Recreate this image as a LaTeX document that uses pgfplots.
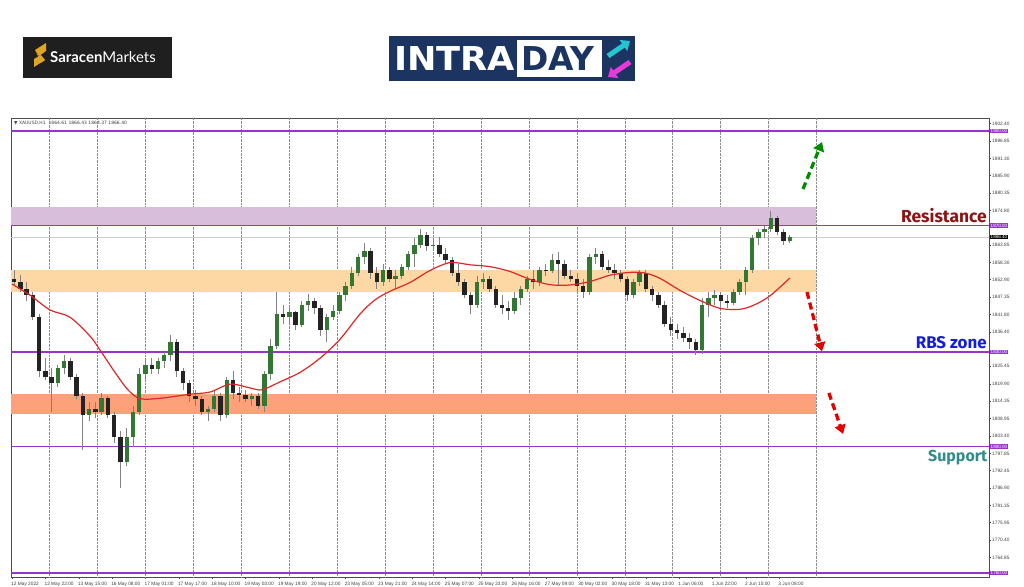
\documentclass[border=0pt]{standalone}
\usepackage{pgfplots}
\pgfplotsset{compat=1.18}
\usepackage{pgfplotstable}
\usepackage{fontspec}
\setmainfont{Liberation Sans}
\newfontfamily\dejavu{DejaVu Sans}
\newfontfamily\fira{Fira Sans}
\newfontfamily\lato{Lato}
\usetikzlibrary{arrows.meta}

\definecolor{levelpurple}{RGB}{153,51,204}
\definecolor{zonepurple}{RGB}{216,190,218}
\definecolor{zonepeach}{RGB}{253,216,164}
\definecolor{zonesalmon}{RGB}{252,161,122}
\definecolor{mared}{RGB}{220,40,40}
\definecolor{upgreen}{RGB}{50,120,50}
\definecolor{downdark}{RGB}{35,35,35}
\definecolor{wick}{RGB}{130,130,130}
\definecolor{resred}{RGB}{140,20,20}
\definecolor{rbsblue}{RGB}{20,30,215}
\definecolor{supteal}{RGB}{50,140,140}
\definecolor{navy}{RGB}{28,52,98}
\definecolor{logocyan}{RGB}{34,197,208}
\definecolor{logopink}{RGB}{232,58,216}
\definecolor{gold}{RGB}{222,166,38}

\tikzset{pricebox/.style={anchor=west, text=white, inner xsep=1bp, inner ysep=0.6bp,
  font=\fontsize{4.6}{5}\selectfont, xshift=0.5bp}}

% XAUUSD H1, three hourly bars per candle (i = bar index)
\pgfplotstableread{
i o h l c
1 1853 1856 1851 1852
4 1852 1854.5 1849 1850
7 1850 1852 1846 1848
10 1848 1849 1840 1841
13 1841 1842 1822 1824
16 1824 1828 1821 1822
19 1822 1825 1811 1820
22 1820 1826 1819 1825
25 1825 1829 1823 1827
28 1827 1828 1821 1822
31 1822 1823 1815 1816
34 1816 1817 1799 1810
37 1810 1814 1808 1812
40 1812 1814 1809 1811
43 1811 1817 1810 1815.5
46 1815.5 1816 1809 1810
49 1810 1811 1801 1803
52 1803 1805 1787 1795
55 1795 1806 1794 1803
58 1803 1813 1800 1811
61 1811 1825 1810 1823
64 1823 1828 1821 1826
67 1826 1828 1823 1824.5
70 1824.5 1828 1823 1827
73 1827 1830 1825 1829
76 1829 1835.5 1827 1833
79 1833 1834 1822 1824
82 1824 1825 1818 1820
85 1820 1821 1814 1816
88 1816 1818 1813 1815
91 1815 1816 1810 1811
94 1811 1813 1808 1812
97 1812 1818 1811 1816
100 1816 1817 1808 1810
103 1810 1822 1809 1821
106 1821 1824 1815 1817
109 1817 1819 1814 1816.5
112 1816.5 1818 1814 1815
115 1815 1817 1813 1816
118 1816 1817 1812 1813
121 1813 1824 1811 1823
124 1823 1834 1821 1832
127 1832 1849 1831 1842
130 1842 1845 1839 1841
133 1841 1844 1839 1842.5
136 1842.5 1843 1837 1838.5
139 1838.5 1846 1838 1845
142 1845 1848.5 1843 1846
145 1846 1847 1842 1844
148 1844 1845 1835 1837
151 1837 1842 1833 1841
154 1841 1845 1840 1843
157 1843 1849 1842 1848
160 1848 1852 1846 1851
163 1851 1857 1850 1855
166 1855 1861 1854 1860
169 1860 1864.5 1858 1862
172 1862 1863 1853 1855
175 1855 1857 1850 1852
178 1852 1858 1851 1856
181 1856 1857 1852 1853
184 1853 1856 1850 1854
187 1854 1858 1853 1857
190 1857 1862 1856 1861
193 1861 1866 1857 1864
196 1864 1868.8 1863 1867
199 1867 1868 1862 1863.5
202 1863.5 1866 1862 1864
205 1864 1866.5 1860 1861
208 1861 1863 1858 1859
211 1859 1860 1854 1855
214 1855 1858 1851 1852
217 1852 1853 1847 1848
220 1848 1849 1842 1845
223 1845 1854 1844 1852
226 1852 1855 1850 1853
229 1853 1854 1849 1850
232 1850 1851 1844 1845
235 1845 1848 1842 1844
238 1844 1846 1840 1843
241 1843 1849 1842 1847
244 1847 1851 1845 1850
247 1850 1854 1849 1853
250 1853 1856 1850 1852
253 1852 1857 1851 1856
256 1856 1858 1854 1855.5
259 1855.5 1861 1855 1859
262 1859 1861.5 1851 1858
265 1858 1859 1853 1854
268 1854 1856 1852 1853
271 1853 1855 1849 1851
274 1851 1853 1847 1849
277 1849 1861 1848 1860
280 1860 1863 1858 1861
283 1861 1862 1856 1857
286 1857 1859 1855 1856
289 1856 1858 1853 1855
292 1855 1856 1852 1853
295 1853 1854 1846 1848
298 1848 1853 1847 1852
301 1852 1856 1851 1855
304 1855 1856 1849 1850
307 1850 1851 1846 1848
310 1848 1849 1844 1845
313 1845 1846 1838 1839
316 1839 1841 1835 1837
319 1837 1839 1834 1836
322 1836 1838 1833 1834.5
325 1834.5 1836 1831 1833
328 1833 1834 1829 1830.5
331 1830.5 1847 1829.5 1845
334 1845 1849 1841 1847
337 1847 1849.5 1845 1848
340 1848 1849 1845 1846
343 1846 1848 1844 1845.5
346 1845.5 1850 1845 1849
349 1849 1853 1848 1852
352 1852 1857 1848 1856
355 1856 1867 1855 1866
358 1866 1869 1864 1868
361 1868 1870 1866 1869
364 1869 1874.5 1868 1872.5
367 1872.5 1873 1867 1868
370 1868 1869 1864 1865
373 1865 1867 1864.4 1866.4
}\candles

\begin{document}
\begin{tikzpicture}
\useasboundingbox (0,0) rectangle (1024bp,-587bp);
\fill[white] (0,0) rectangle (1024bp,-587bp);

% logos
\begin{scope}[x=1bp,y=-1bp]
  \fill[black!88] (23,37) rectangle (172,78);
  \fill[gold] (35,50) -- (46,43) -- (46,51) -- (39,56) -- cycle;
  \fill[gold!80!black] (35,50) -- (39,56) -- (45,60) -- (41,63) -- cycle;
  \fill[gold] (45,60) -- (34,67) -- (34,59) -- (41,55) -- cycle;
  \node[anchor=west, text=white, inner sep=0] at (50,57.5)
    {\lato\fontsize{15}{15}\selectfont\textbf{Saracen}Markets};
  \fill[navy] (389,36) rectangle (635,81);
  \fill[white] (517,40) rectangle (602,77);
  \node[anchor=base west, text=white, inner sep=0] at (394,70)
    {\scalebox{1.07}[1]{\dejavu\bfseries\fontsize{33}{33}\selectfont INTRA}};
  \node[anchor=base west, text=navy, inner sep=0] at (521,70)
    {\dejavu\bfseries\fontsize{33}{33}\selectfont DAY};
  \draw[logocyan, line width=5bp, -{Triangle[length=8bp,width=13bp]}] (608,56) -- (630,41);
  \draw[logopink, line width=5bp, -{Triangle[length=8bp,width=13bp]}] (630,62) -- (608,77);
  \node[anchor=west, inner sep=0, text=black!75] at (14,123)
    {\dejavu\fontsize{4.5}{5}\selectfont ▼ XAUUSD,H1\ \ 1864.61 1866.43 1864.37 1866.40};
\end{scope}

\begin{axis}[
    scale only axis,
    width=978bp, height=459bp,
    at={(11bp,-577bp)}, anchor=south west,
    xmin=-0.5, xmax=468.6,
    ymin=1758.7, ymax=1904.1,
    clip=false,
    axis line style={gray!60!black, line width=0.6bp},
    tick align=outside,
    major tick length=2bp,
    tick style={gray!60!black, line width=0.4bp},
    xtick pos=bottom, ytick pos=right,
    yticklabel pos=right,
    /pgf/number format/assume math mode=true,
    ticklabel style={font=\fontsize{4.8}{5}\selectfont, text=black!75},
    xtick={0,16,...,368},
    xticklabels={12 May 2022,12 May 22:00,13 May 15:00,16 May 08:00,17 May 01:00,17 May 17:00,18 May 10:00,19 May 03:00,19 May 19:00,20 May 12:00,23 May 05:00,23 May 21:00,24 May 14:00,25 May 07:00,25 May 23:00,26 May 16:00,27 May 09:00,30 May 02:00,30 May 18:00,31 May 13:00,1 Jun 06:00,1 Jun 22:00,2 Jun 15:00,3 Jun 08:00},
    xticklabel style={anchor=north west, xshift=-1bp, inner xsep=0},
    ytick={1764.85,1770.40,1775.95,1781.35,1786.90,1792.45,1797.85,1803.40,1808.95,1814.35,1819.90,1825.45,1836.40,1841.80,1847.35,1852.90,1858.30,1863.85,1874.80,1880.35,1885.90,1891.30,1896.85,1902.40},
    yticklabels={1764.85,1770.40,1775.95,1781.35,1786.90,1792.45,1797.85,1803.40,1808.95,1814.35,1819.90,1825.45,1836.40,1841.80,1847.35,1852.90,1858.30,1863.85,1874.80,1880.35,1885.90,1891.30,1896.85,1902.40},
    yticklabel style={inner xsep=1bp},
    extra x ticks={17.9,40.9,63.9,86.9,109.9,132.9,155.9,178.9,201.9,224.9,247.9,270.9,293.9,316.9,339.9,362.9,385.9},
    extra x tick labels={},
    extra x tick style={grid=major, major tick length=0pt,
      major grid style={densely dotted, gray!90, line width=0.5bp}},
  ]
  % zones
  \addplot[draw=none, fill=zonepurple] coordinates {(-0.5,1870) (385.6,1870) (385.6,1875.9) (-0.5,1875.9)} -- cycle;
  \addplot[draw=none, fill=zonepeach] coordinates {(-0.5,1849) (385.6,1849) (385.6,1856) (-0.5,1856)} -- cycle;
  \addplot[draw=none, fill=zonesalmon] coordinates {(-0.5,1810.4) (385.6,1810.4) (385.6,1816.7) (-0.5,1816.7)} -- cycle;
  % levels
  \addplot[gray!40, line width=0.5bp] coordinates {(-0.5,1866.4) (468.6,1866.4)};
  \addplot[levelpurple, line width=1.4bp] coordinates {(-0.5,1900) (468.6,1900)};
  \addplot[levelpurple, line width=1.4bp] coordinates {(-0.5,1870) (468.6,1870)};
  \addplot[levelpurple, line width=1.4bp] coordinates {(-0.5,1830) (468.6,1830)};
  \addplot[levelpurple, line width=1.4bp] coordinates {(-0.5,1800) (468.6,1800)};
  \addplot[levelpurple, line width=1.4bp] coordinates {(-0.5,1760) (468.6,1760)};
  % wicks
  \addplot[draw=none, mark=none, error bars/.cd, y dir=plus, y explicit,
    error mark=none, error bar style={draw=wick, line width=0.9bp}]
    table[x=i, y=l, y error plus expr={\thisrow{h}-\thisrow{l}}] {\candles};
  % bodies
  \addplot[draw=none, mark=none, unbounded coords=discard, error bars/.cd, y dir=plus, y explicit,
    error mark=none, error bar style={draw=upgreen, line width=4.4bp}]
    table[x=i, y expr={\thisrow{c}>=\thisrow{o} ? \thisrow{o} : nan},
      y error plus expr={\thisrow{c}-\thisrow{o}}] {\candles};
  \addplot[draw=none, mark=none, unbounded coords=discard, error bars/.cd, y dir=plus, y explicit,
    error mark=none, error bar style={draw=downdark, line width=4.4bp}]
    table[x=i, y expr={\thisrow{c}<\thisrow{o} ? \thisrow{c} : nan},
      y error plus expr={\thisrow{o}-\thisrow{c}}] {\candles};
  % moving average
  \addplot[mared, line width=1.2bp, smooth] coordinates {
    (0,1851.5) (8.6,1848) (18.2,1843.3) (27.8,1841) (37.4,1835) (42.2,1830.6)
    (49.4,1823.5) (55.6,1818) (61.4,1815.2) (71,1815.3) (85.4,1816.6) (95,1817.3)
    (104.6,1819.8) (114.1,1818.6) (119.9,1818) (128.5,1820.5) (138.1,1823.5)
    (147.7,1828) (157.3,1834) (166.9,1842) (174.1,1846.5) (181.3,1849.2)
    (190.9,1852) (200.5,1855.8) (210.1,1858.3) (219.7,1857.6) (229.3,1857)
    (238.8,1855.5) (248.4,1853) (258,1851.3) (267.6,1851.2) (277.2,1852.3)
    (286.8,1854.3) (296.4,1855.2) (303.6,1855) (310.8,1853.3) (320.4,1849.5)
    (330,1846.3) (339.6,1843.8) (349.2,1843.5) (356.4,1845) (363.6,1847.8) (373.1,1853.4)};
  % arrows
  \draw[green!55!black, line width=3.3bp, dash pattern=on 7bp off 4bp, -{Triangle[length=9bp,width=11bp]}]
    (axis cs:379.4,1881.6) -- (axis cs:388.5,1896.5);
  \draw[red!90!black, line width=3.3bp, dash pattern=on 7bp off 4bp, -{Triangle[length=9bp,width=11bp]}]
    (axis cs:381.3,1849.0) -- (axis cs:388.5,1830.2);
  \draw[red!90!black, line width=3.3bp, dash pattern=on 7bp off 4bp, -{Triangle[length=9bp,width=11bp]}]
    (axis cs:391.8,1817.0) -- (axis cs:398.6,1804.0);
  % labels
  \node[anchor=east, text=resred, inner sep=0] at (axis cs:467.6,1873.2)
    {\fira\bfseries\fontsize{17.5}{17.5}\selectfont Resistance};
  \node[anchor=east, text=rbsblue, inner sep=0] at (axis cs:467.6,1832.8)
    {\fira\bfseries\fontsize{17}{17}\selectfont RBS zone};
  \node[anchor=east, text=supteal, inner sep=0] at (axis cs:467.9,1796.4)
    {\fira\bfseries\fontsize{16}{16}\selectfont Support};
  % price boxes
  \node[pricebox, fill=levelpurple] at (axis cs:468.6,1900) {1900.00};
  \node[pricebox, fill=levelpurple] at (axis cs:468.6,1870) {1870.00};
  \node[pricebox, fill=levelpurple] at (axis cs:468.6,1830) {1830.00};
  \node[pricebox, fill=levelpurple] at (axis cs:468.6,1800) {1800.00};
  \node[pricebox, fill=levelpurple] at (axis cs:468.6,1760) {1760.00};
  \node[pricebox, fill=black] at (axis cs:468.6,1866.4) {1866.40};
\end{axis}
\end{tikzpicture}
\end{document}
